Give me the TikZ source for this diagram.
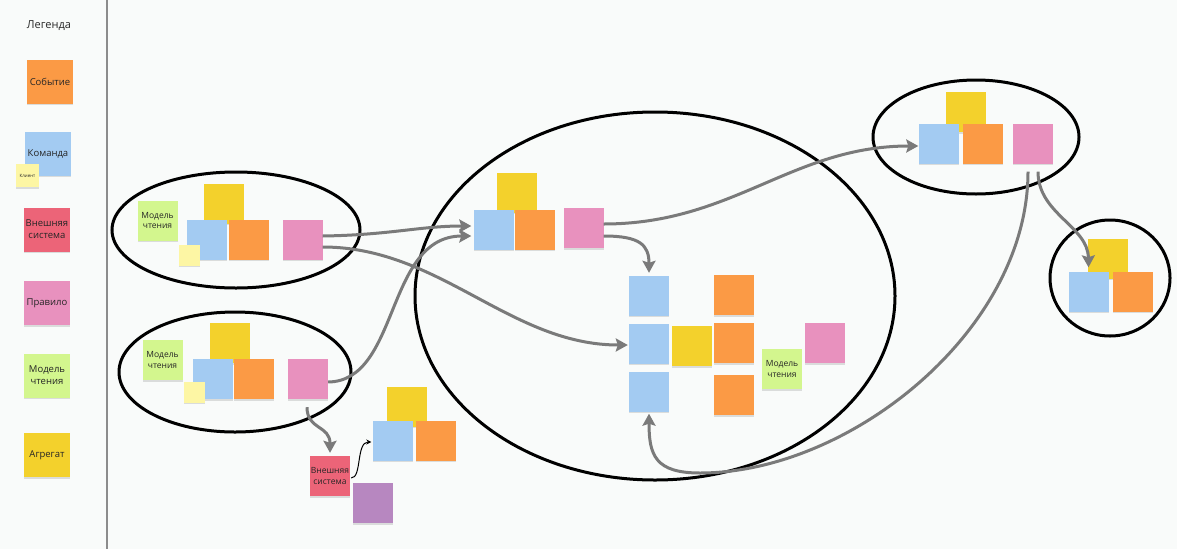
\documentclass[tikz,border=0pt]{standalone}
\usepackage{fontspec}
\setmainfont{Open Sans}
\usetikzlibrary{arrows.meta,shadows}
\definecolor{bg}{HTML}{F9FBFA}
\definecolor{cOrange}{HTML}{FB9A45}
\definecolor{cBlue}{HTML}{A3CBF2}
\definecolor{cRed}{HTML}{EC6478}
\definecolor{cPink}{HTML}{E891BE}
\definecolor{cGreen}{HTML}{D3F68E}
\definecolor{cYellow}{HTML}{F3D12C}
\definecolor{cLight}{HTML}{FDF6A4}
\definecolor{cPurple}{HTML}{B787C0}
\definecolor{txt}{HTML}{262626}
\definecolor{conn}{HTML}{7A7A7A}
\tikzset{
 note/.style={rectangle, minimum width=40pt, minimum height=40pt, inner sep=0pt, fill=#1, align=center, text=txt,
   font=\fontsize{8.5}{10.7}\selectfont,
   drop shadow={shadow xshift=0pt, shadow yshift=-1.5pt, opacity=0.25}},
 lnote/.style={note=#1, minimum width=46pt, minimum height=44pt, font=\fontsize{9.5}{12}\selectfont},
 smallnote/.style={note=cLight, minimum width=21pt, minimum height=21pt},
 group/.style={draw=black, line width=3pt},
 flow/.style={draw=conn, line width=3pt, -{Stealth[length=12pt,width=13pt,inset=2pt]}},
 thinflow/.style={draw=black, line width=1pt, -{Stealth[length=5pt,width=5pt]}},
}
\begin{document}
\begin{tikzpicture}[x=1pt,y=-1pt]
\fill[bg] (0,0) rectangle (1177,549);
\useasboundingbox (0,0) rectangle (1177,549);
\draw[color=black!45, line width=1.5pt] (107,0) -- (107,549);

% legend
\node[text=txt, font=\fontsize{11}{13}\selectfont] (leg) at (49,26) {Легенда};
\node[lnote=cOrange] (l1) at (50,81.5) {Событие};
\node[lnote=cBlue] (l2) at (48,153.5) {Команда};
\node[smallnote, minimum width=23pt, minimum height=23pt, font=\fontsize{4.5}{5}\selectfont] (l2c) at (27.5,175.5) {Клиент};
\node[lnote=cRed] (l3) at (47,229.5) {Внешняя\\система};
\node[lnote=cPink] (l4) at (47,303) {Правило};
\node[lnote=cGreen] (l5) at (47,375.5) {Модель\\чтения};
\node[lnote=cYellow] (l6) at (47,455) {Агрегат};

% group ellipses
\draw[group] (236,230) ellipse [x radius=124pt, y radius=58pt];
\draw[group] (235,372) ellipse [x radius=116pt, y radius=60pt];
\draw[group] (655,296) ellipse [x radius=240pt, y radius=184pt];
\draw[group] (976,137) ellipse [x radius=103pt, y radius=57pt];
\draw[group] (1110,278) ellipse [x radius=60pt, y radius=58pt];

% group 1
\node[note=cGreen] (g1) at (157.5,220.5) {Модель\\чтения};
\node[note=cYellow] (y1) at (224,203.5) {};
\node[note=cBlue] (b1) at (206.5,239.5) {};
\node[note=cOrange] (o1) at (248.5,239.5) {};
\node[smallnote] (c1) at (189.5,255) {};
\node[note=cPink] (p1) at (302.5,239.5) {};

% group 2
\node[note=cGreen] (g2) at (162.5,360) {Модель\\чтения};
\node[note=cYellow] (y2) at (229.5,343) {};
\node[note=cBlue] (b2) at (212.5,379) {};
\node[note=cOrange] (o2) at (253.5,379) {};
\node[smallnote] (c2) at (194.5,392) {};
\node[note=cPink] (p2) at (308,379) {};

% bottom group
\node[note=cRed] (r3) at (330,476) {Внешняя\\система};
\node[note=cPurple] (pu3) at (372.5,503) {};
\node[note=cYellow] (y3) at (406.5,406.5) {};
\node[note=cBlue] (b3) at (392.5,440.5) {};
\node[note=cOrange] (o3) at (435.5,440.5) {};

% central top
\node[note=cYellow] (y4) at (517,192.5) {};
\node[note=cBlue] (b4) at (493.5,229.5) {};
\node[note=cOrange] (o4) at (535,229.5) {};
\node[note=cPink] (p4) at (583.5,228) {};

% central main
\node[note=cBlue] (b5a) at (649,295.5) {};
\node[note=cBlue] (b5b) at (649,343.5) {};
\node[note=cBlue] (b5c) at (649,391.5) {};
\node[note=cYellow] (y5) at (691.5,346) {};
\node[note=cOrange] (o5a) at (734,295) {};
\node[note=cOrange] (o5b) at (734,343) {};
\node[note=cOrange] (o5c) at (734,395) {};
\node[note=cGreen] (g5) at (782,369) {Модель\\чтения};
\node[note=cPink] (p5) at (825,343) {};

% upper right
\node[note=cYellow] (y6) at (965.5,112) {};
\node[note=cBlue] (b6) at (938.5,143.5) {};
\node[note=cOrange] (o6) at (983,143.5) {};
\node[note=cPink] (p6) at (1033,143.5) {};

% small circle
\node[note=cYellow] (y7) at (1108,258.5) {};
\node[note=cBlue] (b7) at (1088.5,291.5) {};
\node[note=cOrange] (o7) at (1133,291.5) {};

% connectors
\draw[flow] ([yshift=3.5pt]p1.east) .. controls (390,235) and (420,226) .. ([yshift=3.5pt,xshift=-2pt]b4.west);
\draw[flow] ([yshift=-3pt]p2.east) .. controls (400,381) and (385,236) .. ([yshift=-6.5pt,xshift=-2pt]b4.west);
\draw[flow] ([yshift=-7.5pt]p1.east) .. controls (440,247) and (510,345) .. ([xshift=-1pt,yshift=-1.5pt]b5b.west);
\draw[flow] ([yshift=4pt]p4.east) .. controls (733,224) and (792,146) .. ([yshift=-2.5pt]b6.west);
\draw[flow] ([yshift=-8pt]p4.east) .. controls (640,236) and (649,245) .. ([yshift=2.5pt]b5a.north);
\draw[flow] ([xshift=-5pt,yshift=-8pt]p6.south) .. controls (1028,330) and (850,473) .. (700,473)
   .. controls (655,473) and (649,455) .. ([yshift=-2pt]b5c.south);
\draw[flow] ([xshift=5pt,yshift=-8pt]p6.south) .. controls (1038,214) and (1088,226) .. ([yshift=4pt]b7.north);
\draw[flow] ([xshift=-1pt,yshift=-8pt]p2.south) .. controls (307,430) and (330,425) .. ([yshift=3pt]r3.north);
\draw[thinflow] ([xshift=1pt,yshift=-2pt]r3.east) .. controls (362,478) and (356,442) .. ([xshift=-1pt,yshift=-1.5pt]b3.west);
\end{tikzpicture}
\end{document}
